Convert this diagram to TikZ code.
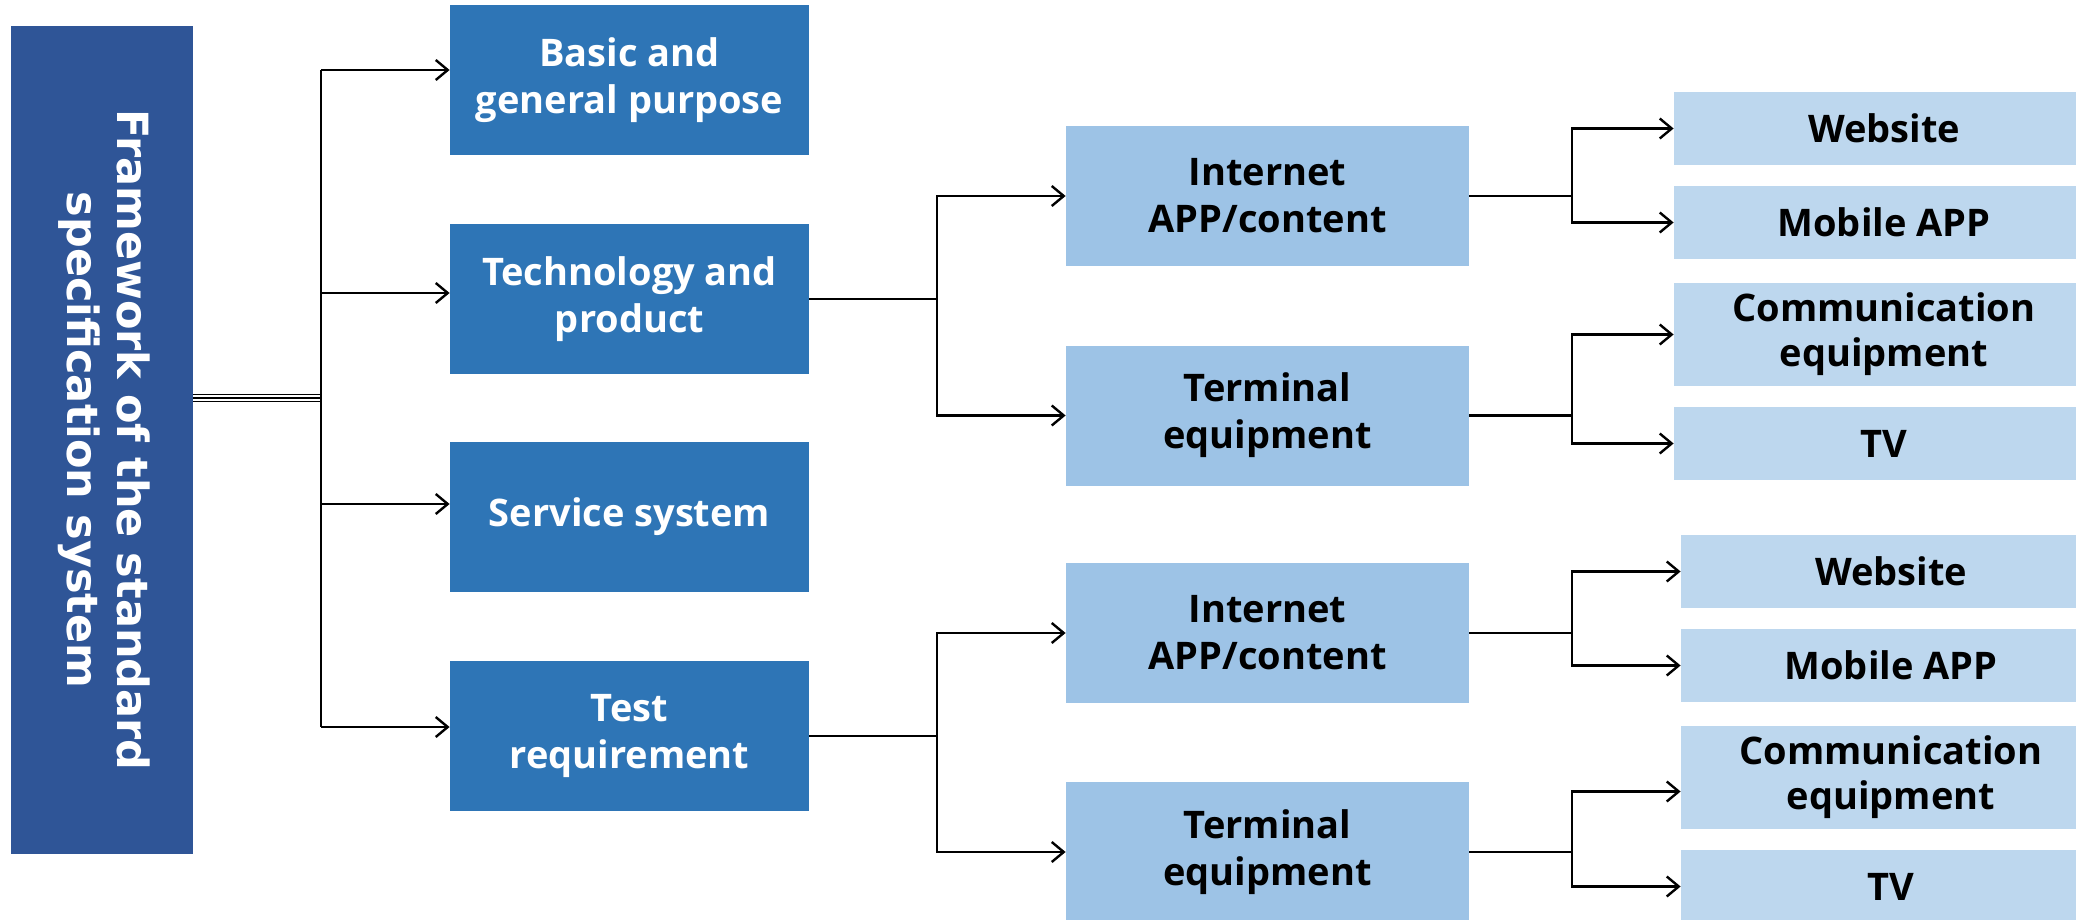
\documentclass[tikz,border=0pt]{standalone}
\usepackage{fontspec}
\setmainfont{Open Sans}
\newfontfamily\rootfont{DejaVu Sans}
\usetikzlibrary{arrows.meta}
\definecolor{rootblue}{HTML}{2F5597}
\definecolor{mainblue}{HTML}{2E75B6}
\definecolor{midblue}{HTML}{9DC3E6}
\definecolor{leafblue}{HTML}{BDD7EE}
\begin{document}
\begin{tikzpicture}[x=0.5pt,y=-0.5pt]
\tikzstyle{rootbox}=[fill=rootblue, text=white, minimum width=91pt, minimum height=414pt, inner sep=0pt]
\tikzstyle{mainbox}=[fill=mainblue, text=white, minimum width=179.5pt, minimum height=75pt, inner sep=0pt, align=center, font=\bfseries\fontsize{19}{23.5}\selectfont]
\tikzstyle{midbox}=[fill=midblue, minimum width=201.5pt, minimum height=70pt, inner sep=0pt, align=center, font=\bfseries\fontsize{19}{23.5}\selectfont]
\tikzstyle{leafbox}=[fill=leafblue, minimum width=210pt, minimum height=36.5pt, inner sep=0pt, align=center, font=\bfseries\fontsize{19}{22.5}\selectfont]
\tikzstyle{wire}=[draw, line width=1.2pt]
\tikzstyle{arrow}=[draw, line width=1.2pt, -{Straight Barb[length=6pt,width=10pt,line width=1.2pt]}]

\useasboundingbox (0,0) rectangle (2076,920);
\clip (0,0) rectangle (2076,920);

% Root
\node[rootbox] (root) at (102,440) {};
\node[rotate=-90, text=white, align=center, font=\rootfont\bfseries\fontsize{21.5}{25}\selectfont] (roottext) at ([xshift=1pt]root.center) {Framework of the standard\\specification system};

% First level
\node[mainbox] (basic) at (629.5,80) {Basic and\\general purpose};
\node[mainbox] (tech) at (629.5,299) {Technology and\\product};
\node[mainbox] (service) at (629.5,517) {Service system};
\node[mainbox] (test) at (629.5,736) {Test\\requirement};

% Second level
\node[midbox] (inet1) at (1267.5,196) {Internet\\APP/content};
\node[midbox] (term1) at (1267.5,415.5) {Terminal\\equipment};
\node[midbox] (inet2) at (1267.5,633) {Internet\\APP/content};
\node[midbox] (term2) at (1267.5,852) {Terminal\\equipment};

% Third level
\node[leafbox] (web1) at (1884,128.5) {Website};
\node[leafbox] (mob1) at (1884,222.5) {Mobile APP};
\node[leafbox, minimum height=51.5pt] (comm1) at (1884,334.5) {Communication\\equipment};
\node[leafbox] (tv1) at (1884,443.5) {TV};
\node[leafbox] (web2) at (1891,571.5) {Website};
\node[leafbox] (mob2) at (1891,665.5) {Mobile APP};
\node[leafbox, minimum height=51.5pt] (comm2) at (1891,777.5) {Communication\\equipment};
\node[leafbox] (tv2) at (1891,886.5) {TV};

% Branch points
\coordinate (trunk) at (321,398);
\coordinate (brA) at (937,0);
\coordinate (brB) at (1572,0);

% Root to first level
\draw[line width=0.8pt] ([yshift=1.8pt]root.east |- trunk) -- ([yshift=1.8pt]trunk);
\draw[line width=0.8pt] (root.east |- trunk) -- (trunk);
\draw[line width=0.8pt] ([yshift=-1.8pt]root.east |- trunk) -- ([yshift=-1.8pt]trunk);
\draw[wire] ([yshift=5pt]basic.west -| trunk) -- ([yshift=4.5pt]test.west -| trunk);
\foreach \n/\s in {basic/5pt, tech/3pt, service/6.5pt, test/4.5pt}
  \draw[arrow] ([yshift=\s]\n.west -| trunk) -- ([yshift=\s]\n.west);

% First to second level
\draw[arrow] (tech.east) -- (tech.east -| brA) |- (inet1.west);
\draw[arrow] (tech.east -| brA) |- (term1.west);
\draw[arrow] (test.east) -- (test.east -| brA) |- (inet2.west);
\draw[arrow] (test.east -| brA) |- (term2.west);

% Second to third level
\draw[arrow] (inet1.east) -- (inet1.east -| brB) |- (web1.west);
\draw[arrow] (inet1.east -| brB) |- (mob1.west);
\draw[arrow] (term1.east) -- (term1.east -| brB) |- (comm1.west);
\draw[arrow] (term1.east -| brB) |- (tv1.west);
\draw[arrow] (inet2.east) -- (inet2.east -| brB) |- (web2.west);
\draw[arrow] (inet2.east -| brB) |- (mob2.west);
\draw[arrow] (term2.east) -- (term2.east -| brB) |- ([yshift=-7pt]comm2.west);
\draw[arrow] (term2.east -| brB) |- (tv2.west);
\end{tikzpicture}
\end{document}
